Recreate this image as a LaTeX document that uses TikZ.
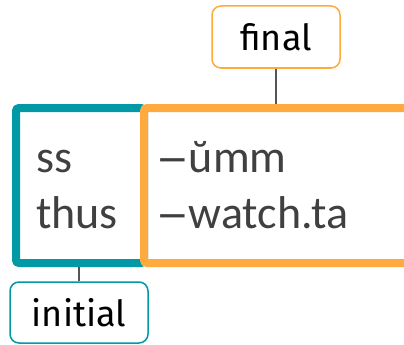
\documentclass[tikz,border=0pt]{standalone}
\usepackage{fontspec}
\setmainfont{Carlito}
\newfontfamily\labelfont{Fira Sans}
\newfontfamily\dashfont{DejaVu Sans}
\definecolor{tealc}{HTML}{0099A5}
\definecolor{orangec}{HTML}{FFAA3E}
\definecolor{textc}{HTML}{404040}
\definecolor{linec}{HTML}{555555}
\newcommand{\ndash}{{\dashfont\fontsize{39}{44}\selectfont −}}
\begin{document}
\begin{tikzpicture}[x=1pt,y=-1pt,
  part/.style={draw, line width=8pt, rounded corners=3pt, inner sep=0pt},
  word/.style={anchor=base west, inner sep=0pt, text=textc, font=\fontsize{46}{54}\selectfont},
  labelbox/.style={draw, line width=1.5pt, rounded corners=9pt, fill=white, text=black,
    font=\labelfont\fontsize{36}{40}\selectfont, inner sep=0pt},
  conn/.style={draw=linec, line width=1.5pt}]
\useasboundingbox (0,0) rectangle (404,345);
\clip (0,0) rectangle (404,345);
\fill[white] (0,0) rectangle (404,345);
% boxes
\node[part, draw=tealc, minimum width=128pt, minimum height=155pt] (initbox) at (80,185.5) {};
\node[part, draw=orangec, minimum width=300pt, minimum height=155pt] (finalbox) at (294,185.5) {};
% labels
\node[labelbox, draw=orangec, minimum width=128pt, minimum height=62pt] (final) at (276,37) {final\hspace{9pt}};
\node[labelbox, draw=tealc, minimum width=138pt, minimum height=61pt] (initial) at (79,312.5) {initial};
% connectors
\draw[conn] (final.south) -- (final.south |- finalbox.north);
\draw[conn] (initial.north) -- (initial.north |- initbox.south);
% text
\node[word] (ss) at (36,172) {ss};
\node[word] (thus) at (36,228) {thus};
\node[word] (umm) at (156,172) {\ndash ŭmm};
\node[word] (watch) at (156,228) {\ndash watch.ta};
\end{tikzpicture}
\end{document}
